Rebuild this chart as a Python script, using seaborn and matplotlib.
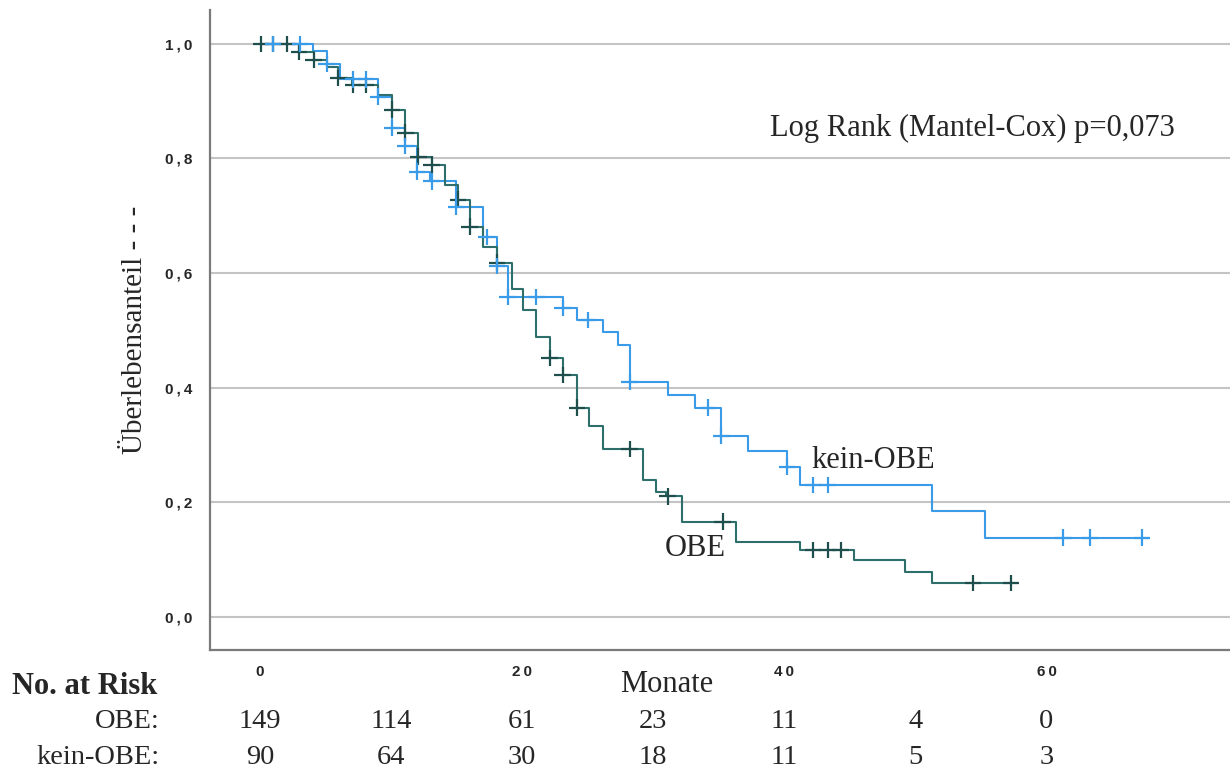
import matplotlib
matplotlib.use('Agg')
import matplotlib.pyplot as plt
import matplotlib.transforms as mtransforms
import numpy as np
import pandas as pd
import seaborn as sns

# Kaplan-Meier steps (months, survival after the step)
obe_t = [0, 3.0, 4.1, 5.1, 6.0, 7.0, 9.0, 10.1, 11.1, 12.1, 13.1, 14.1, 15.1, 16.0, 17.0,
         18.1, 19.2, 20.1, 21.1, 22.1, 23.1, 24.2, 25.1, 26.2, 29.2, 30.2, 31.0, 32.2,
         36.3, 41.2, 45.3, 49.2, 51.3, 57.8]
obe_s = [1.0, 0.986, 0.972, 0.96, 0.94, 0.928, 0.911, 0.885, 0.845, 0.803, 0.789, 0.754,
         0.728, 0.681, 0.646, 0.618, 0.572, 0.536, 0.489, 0.452, 0.422, 0.365, 0.333,
         0.293, 0.239, 0.218, 0.21, 0.166, 0.131, 0.117, 0.099, 0.079, 0.059, 0.059]
obe_cens = [0.1, 1.0, 2.1, 3.0, 4.1, 6.0, 7.1, 8.1, 10.1, 11.1, 12.1, 13.1, 15.1, 16.0,
            18.1, 22.1, 23.1, 24.2, 28.2, 31.1, 35.3, 42.2, 43.3, 44.3, 54.4, 57.3]

kobe_t = [0, 4.05, 5.1, 6.1, 9.0, 10.1, 11.1, 12.0, 13.0, 15.0, 17.0, 18.1, 18.9, 23.1,
          24.2, 26.2, 27.3, 28.2, 31.1, 33.2, 35.2, 37.2, 40.2, 41.2, 51.3, 55.3, 67.8]
kobe_s = [1.0, 0.988, 0.965, 0.938, 0.908, 0.853, 0.822, 0.777, 0.760, 0.716, 0.663,
          0.612, 0.558, 0.539, 0.518, 0.497, 0.475, 0.41, 0.387, 0.365, 0.316, 0.29,
          0.262, 0.23, 0.185, 0.138, 0.138]
kobe_cens = [1.0, 3.05, 5.1, 7.1, 8.1, 9.0, 10.1, 11.1, 12.0, 13.1, 15.0, 17.3, 18.1,
             18.9, 21.1, 23.1, 25.0, 28.2, 34.2, 35.2, 40.2, 42.2, 43.3, 61.3, 63.3, 67.3]

risk_times = [0, 10, 20, 30, 40, 50, 60]
risk_obe = [149, 114, 61, 23, 11, 4, 0]
risk_kobe = [90, 64, 30, 18, 11, 5, 3]

c_obe = '#2e6f6b'
c_obe_mark = '#1f4f4c'
c_kobe = '#3a9be8'


def surv_at(t_steps, s_steps, times):
    idx = np.searchsorted(t_steps, times, side='right') - 1
    return np.asarray(s_steps)[idx]


def spaced(s):
    # the original tick labels are set with wide letter spacing
    return '\u2009'.join(s)


df = pd.concat([
    pd.DataFrame({'Monate': obe_t, 'S': obe_s, 'Gruppe': 'OBE'}),
    pd.DataFrame({'Monate': kobe_t, 'S': kobe_s, 'Gruppe': 'kein-OBE'}),
])
cens = pd.concat([
    pd.DataFrame({'Monate': obe_cens, 'S': surv_at(obe_t, obe_s, obe_cens), 'Gruppe': 'OBE'}),
    pd.DataFrame({'Monate': kobe_cens, 'S': surv_at(kobe_t, kobe_s, kobe_cens), 'Gruppe': 'kein-OBE'}),
])

sns.set_style('white')
plt.rcParams['font.family'] = ['Liberation Serif', 'DejaVu Serif']

fig = plt.figure(figsize=(12.3, 7.72), dpi=100)
ax = fig.add_axes([210 / 1230, 122 / 772, 1020 / 1230, 640 / 772])

for grp, col in [('kein-OBE', c_kobe), ('OBE', c_obe)]:
    d = df[df['Gruppe'] == grp]
    ax.plot(d['Monate'], d['S'], drawstyle='steps-post', color=col, lw=1.5, zorder=3)
sns.scatterplot(data=cens, x='Monate', y='S', hue='Gruppe',
                palette={'OBE': c_obe_mark, 'kein-OBE': c_kobe},
                marker='+', s=140, linewidth=1.6, legend=False, ax=ax, zorder=4)

ax.set_xlim(-3.8, 74)
ax.set_ylim(-0.058, 1.059)
yt = [0, 0.2, 0.4, 0.6, 0.8, 1.0]
ax.set_yticks(yt)
ax.set_yticklabels([spaced(f'{v:.1f}'.replace('.', ',')) for v in yt])
xt = [0, 20, 40, 60]
ax.set_xticks(xt)
ax.set_xticklabels([spaced(str(v)) for v in xt])
ax.tick_params(axis='both', length=0, labelsize=11)
ax.tick_params(axis='y', pad=13)
ax.tick_params(axis='x', pad=11)
for lab in ax.get_xticklabels() + ax.get_yticklabels():
    lab.set_family(['Liberation Sans', 'DejaVu Sans'])
    lab.set_fontweight('bold')
ax.yaxis.grid(True, color='#c4c4c4', lw=1.5)
ax.xaxis.grid(False)
ax.set_axisbelow(True)
for side in ['top', 'right']:
    ax.spines[side].set_visible(False)
for side in ['left', 'bottom']:
    ax.spines[side].set_color('#7a7a7a')
    ax.spines[side].set_linewidth(1.6)

ax.set_xlabel('')
ax.set_ylabel('Überlebensanteil - - -', fontsize=21)
ax.yaxis.set_label_coords(-0.061, 0.5)
fig.text(667 / 1230, 1 - 684 / 772, 'Monate', fontsize=22, ha='center', va='center')

ax.text(0.549, 0.815, 'Log Rank (Mantel-Cox) p=0,073', transform=ax.transAxes,
        fontsize=22, va='center', ha='left')
ax.text(42.1, 0.272, 'kein-OBE', fontsize=22, ha='left', va='center')
ax.text(30.9, 0.12, 'OBE', fontsize=22, ha='left', va='center')

# number at risk table
trans = mtransforms.blended_transform_factory(ax.transData, fig.transFigure)
fig.text(12 / 1230, 1 - 687 / 772, 'No. at Risk', fontsize=22, fontweight='bold',
         ha='left', va='center')
fig.text(160 / 1230, 1 - 722 / 772, 'OBE:', fontsize=20.5, ha='right', va='center')
fig.text(160 / 1230, 1 - 757 / 772, 'kein-OBE:', fontsize=20.5, ha='right', va='center')
for t, a, b in zip(risk_times, risk_obe, risk_kobe):
    ax.text(t, 1 - 722 / 772, str(a), transform=trans, fontsize=20.5, ha='center', va='center')
    ax.text(t, 1 - 757 / 772, str(b), transform=trans, fontsize=20.5, ha='center', va='center')

fig.savefig('out.png', dpi=100)
